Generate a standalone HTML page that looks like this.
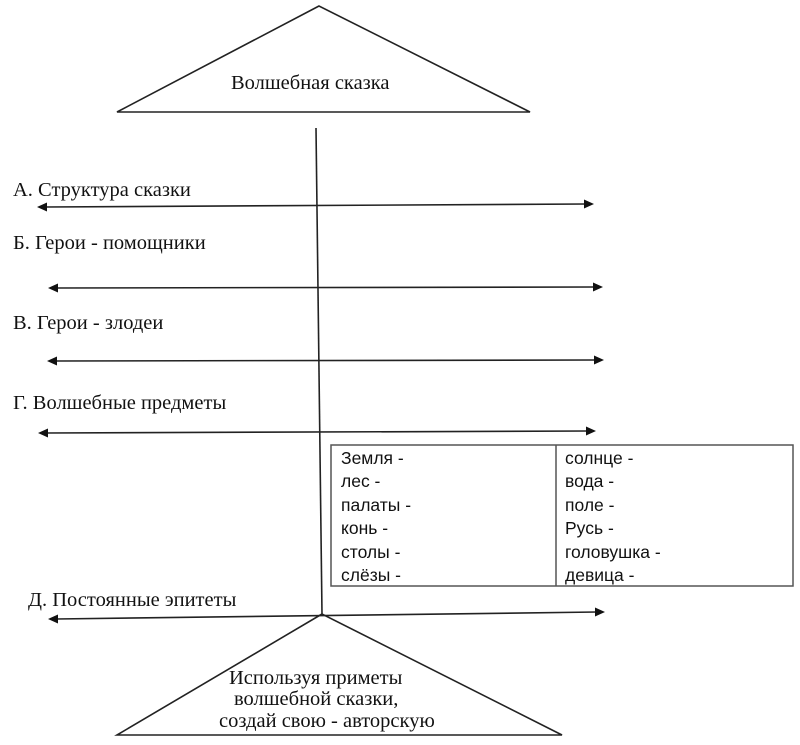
<!DOCTYPE html>
<html>
<head>
<meta charset="utf-8">
<style>
  html, body { margin:0; padding:0; background:#fff; }
  svg { display:block; }
  .serif { font-family: "Liberation Serif", "Noto Serif CJK SC", serif; font-size:20.5px; fill:#111; }
  .sans { font-family: "Liberation Sans", "Noto Sans CJK SC", sans-serif; font-size:17.5px; fill:#111; }
</style>
</head>
<body>
<svg width="800" height="745" viewBox="0 0 800 745" xmlns="http://www.w3.org/2000/svg">
  <rect width="800" height="745" fill="#fff"/>

  <!-- Top triangle -->
  <polygon points="319,6 117,112 530,112" fill="none" stroke="#222" stroke-width="1.6"/>
  <text class="serif" x="231" y="89" font-size="21.5">Волшебная сказка</text>

  <!-- Vertical spine -->
  <line x1="316" y1="128" x2="322" y2="614" stroke="#222" stroke-width="1.6"/>

  <!-- Labels -->
  <text class="serif" x="13" y="196">А. Структура сказки</text>
  <text class="serif" x="13" y="249">Б. Герои - помощники</text>
  <text class="serif" x="13" y="329">В. Герои - злодеи</text>
  <text class="serif" x="13" y="409">Г. Волшебные предметы</text>
  <text class="serif" x="28" y="606">Д. Постоянные эпитеты</text>

  <!-- Arrow A -->
  <line x1="45" y1="207" x2="586" y2="204" stroke="#222" stroke-width="1.6"/>
  <polygon points="37,207 47,202.5 47,211.5" fill="#111"/>
  <polygon points="594,204 584,199.5 584,208.5" fill="#111"/>

  <!-- Arrow Б -->
  <line x1="56" y1="288" x2="595" y2="287" stroke="#222" stroke-width="1.6"/>
  <polygon points="48,288 58,283.5 58,292.5" fill="#111"/>
  <polygon points="603,287 593,282.5 593,291.5" fill="#111"/>

  <!-- Arrow В -->
  <line x1="55" y1="361" x2="596" y2="360" stroke="#222" stroke-width="1.6"/>
  <polygon points="47,361 57,356.5 57,365.5" fill="#111"/>
  <polygon points="604,360 594,355.5 594,364.5" fill="#111"/>

  <!-- Arrow Г -->
  <line x1="46" y1="433" x2="588" y2="431" stroke="#222" stroke-width="1.6"/>
  <polygon points="38,433 48,428.5 48,437.5" fill="#111"/>
  <polygon points="596,431 586,426.5 586,435.5" fill="#111"/>

  <!-- Arrow Д -->
  <line x1="56" y1="619" x2="597" y2="612" stroke="#222" stroke-width="1.6"/>
  <polygon points="48,619 58,614.5 58,623.5" fill="#111"/>
  <polygon points="605,612 595,607.5 595,616.5" fill="#111"/>

  <!-- Table -->
  <rect x="331" y="445" width="462" height="141" fill="#fff" stroke="#555" stroke-width="1.5"/>
  <line x1="556" y1="445" x2="556" y2="586" stroke="#555" stroke-width="1.5"/>

  <text class="sans" x="341" y="464">Земля -</text>
  <text class="sans" x="341" y="487">лес -</text>
  <text class="sans" x="341" y="511">палаты -</text>
  <text class="sans" x="341" y="534">конь -</text>
  <text class="sans" x="341" y="558">столы -</text>
  <text class="sans" x="341" y="581">слёзы -</text>

  <text class="sans" x="565" y="464">солнце -</text>
  <text class="sans" x="565" y="487">вода -</text>
  <text class="sans" x="565" y="511">поле -</text>
  <text class="sans" x="565" y="534">Русь -</text>
  <text class="sans" x="565" y="558">головушка -</text>
  <text class="sans" x="565" y="581">девица -</text>

  <!-- Bottom triangle -->
  <polygon points="322,614 117,735 562,735" fill="none" stroke="#222" stroke-width="1.6"/>
  <text class="serif" x="229" y="684" font-size="20">Используя приметы</text>
  <text class="serif" x="234" y="705" font-size="20">волшебной сказки,</text>
  <text class="serif" x="219" y="727" font-size="20">создай свою - авторскую</text>
</svg>
</body>
</html>
